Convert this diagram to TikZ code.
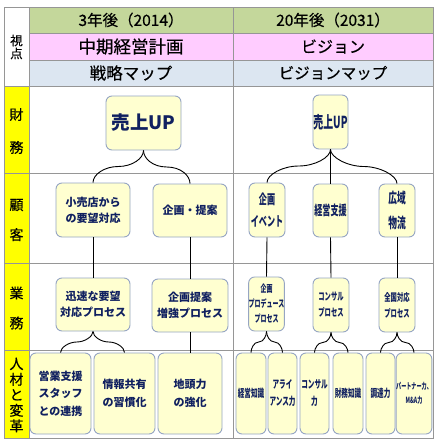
\documentclass[tikz,border=0pt]{standalone}
\usepackage{fontspec}
\setmainfont{Noto Sans CJK JP}
\newfontfamily\nrw{Noto Sans CJK JP}[FakeStretch=0.6]
\newfontfamily\hfont{Noto Sans CJK JP}[FakeBold=0.5]
\usetikzlibrary{calc}
\definecolor{hgreen}{RGB}{196,215,155}
\definecolor{hpink}{RGB}{255,204,255}
\definecolor{hblue}{RGB}{220,230,241}
\definecolor{yel}{RGB}{255,255,0}
\definecolor{bxfill}{RGB}{255,255,208}
\definecolor{bxline}{RGB}{150,165,195}
\definecolor{navy}{RGB}{16,32,96}
\definecolor{gridc}{RGB}{150,150,150}
\newcommand\brc[4]{\draw[conn] (#1.south) .. controls ($(#1.south)+(0,#4)$) and ($(#1.south)!.5!(#2.north)+(#3,0)$) .. ($(#1.south)!.5!(#2.north)$) .. controls ($(#1.south)!.5!(#2.north)-(#3,0)$) and ($(#2.north)-(0,#4)$) .. (#2.north);}
\begin{document}
\begin{tikzpicture}[x=1pt,y=-1pt,
  gridl/.style={draw=gridc,line width=0.8pt},
  conn/.style={draw=black,line width=0.9pt},
  box/.style={draw=bxline,fill=bxfill,rounded corners=6pt,line width=0.9pt,inner sep=0pt,align=center,text=navy},
  lbox/.style={box,font=\fontsize{11}{16}\selectfont\bfseries},
  rbox/.style={box,font=\nrw\fontsize{13.5}{22}\selectfont\bfseries},
  sbox/.style={box,font=\nrw\fontsize{11}{15}\selectfont\bfseries},
  hdr/.style={inner sep=0pt,text=black},
  side/.style={inner sep=0pt,align=center,text=black}]
\useasboundingbox (0,0) rectangle (439,447);
% table background
\fill[white] (0,0) rectangle (439,447);
\fill[hgreen] (29,7) rectangle (433,33);
\fill[hpink] (29,33) rectangle (433,60);
\fill[hblue] (29,60) rectangle (433,86);
\fill[yel] (4,86) rectangle (29,438);
% grid lines
\draw[gridl] (29,33) -- (433,33);
\draw[gridl] (29,60) -- (433,60);
\draw[gridl] (4,86) -- (433,86);
\draw[gridl] (4,173) -- (433,173);
\draw[gridl] (4,263) -- (433,263);
\draw[gridl] (4,350) -- (433,350);
\draw[gridl] (29,7) -- (29,438);
\draw[gridl] (233,7) -- (233,438);
\draw[gridl] (4,7) rectangle (433,438);
% headers
\node[hdr,font=\hfont\fontsize{15.5}{15.5}\selectfont] (h1) at (131,20) {3年後（2014）};
\node[hdr,font=\hfont\fontsize{15.5}{15.5}\selectfont] (h2) at (333,20) {20年後（2031）};
\node[hdr,font=\hfont\fontsize{17.5}{17.5}\selectfont] (h3) at (131,46.5) {中期経営計画};
\node[hdr,font=\hfont\fontsize{16}{16}\selectfont] (h4) at (333,46.5) {ビジョン};
\node[hdr,font=\hfont\fontsize{16.5}{16.5}\selectfont] (h5) at (131,73) {戦略マップ};
\node[hdr,font=\hfont\fontsize{15.5}{15.5}\selectfont] (h6) at (333,73) {ビジョンマップ};
% side labels
\node[side,font=\hfont\fontsize{12.5}{13}\selectfont] (s0) at (16.5,47) {視\\点};
\node[side,font=\hfont\fontsize{14}{33}\selectfont] (s1) at (16.5,131) {財\\務};
\node[side,font=\hfont\fontsize{14}{30}\selectfont] (s2) at (16.5,220) {顧\\客};
\node[side,font=\hfont\fontsize{14}{30}\selectfont] (s3) at (16.5,308) {業\\務};
\node[side,font=\hfont\fontsize{14}{15.5}\selectfont] (s4) at (16.5,395) {人\\材\\と\\変\\革};
% left side boxes
\node[box,font=\fontsize{18.5}{18.5}\selectfont\bfseries,minimum width=75pt,minimum height=54pt] (L1) at (143.5,123) {売上UP};
\node[lbox,minimum width=74pt,minimum height=54pt] (L21) at (93,210) {小売店から\\の要望対応};
\node[lbox,minimum width=74pt,minimum height=53pt] (L22) at (190,210.5) {企画・提案};
\node[lbox,minimum width=74pt,minimum height=53pt] (L31) at (93,304.5) {迅速な要望\\対応プロセス};
\node[lbox,minimum width=76pt,minimum height=53pt] (L32) at (190,305.5) {企画提案\\増強プロセス};
\node[lbox,font=\fontsize{11}{17.5}\selectfont\bfseries,minimum width=61pt,minimum height=81pt] (L41) at (60.5,393.5) {営業支援\\スタッフ\\との連携};
\node[lbox,font=\fontsize{11}{17.5}\selectfont\bfseries,minimum width=61pt,minimum height=81pt] (L42) at (124.5,393.5) {情報共有\\の習慣化};
\node[lbox,font=\fontsize{11}{17.5}\selectfont\bfseries,minimum width=64pt,minimum height=81pt] (L43) at (190,393.5) {地頭力\\の強化};
% right side boxes
\node[box,font=\nrw\fontsize{16.5}{16.5}\selectfont\bfseries,minimum width=35pt,minimum height=54pt] (R1) at (330.5,122) {売上UP};
\node[rbox,minimum width=36pt,minimum height=54pt] (R21) at (267,210) {企画\\イベント};
\node[rbox,minimum width=35pt,minimum height=53pt] (R22) at (330.5,210.5) {経営支援};
\node[rbox,font=\nrw\fontsize{14.5}{25}\selectfont\bfseries,minimum width=36pt,minimum height=53pt] (R23) at (397,210.5) {広域\\物流};
\node[sbox,font=\nrw\fontsize{10}{15}\selectfont\bfseries,minimum width=35pt,minimum height=54pt] (R31) at (266.5,304) {企画\\プロデュース\\プロセス};
\node[sbox,font=\nrw\fontsize{10.5}{16}\selectfont\bfseries,minimum width=36pt,minimum height=54pt] (R32) at (331,305) {コンサル\\プロセス};
\node[sbox,font=\nrw\fontsize{10.5}{16}\selectfont\bfseries,minimum width=36pt,minimum height=54pt] (R33) at (397,305) {全国対応\\プロセス};
\node[sbox,minimum width=30pt,minimum height=81pt] (R41) at (251,393.5) {経営知識};
\node[sbox,font=\nrw\fontsize{11}{17}\selectfont\bfseries,minimum width=29pt,minimum height=81pt] (R42) at (282.5,393.5) {アライ\\アンス力};
\node[sbox,font=\nrw\fontsize{11}{17}\selectfont\bfseries,minimum width=29pt,minimum height=81pt] (R43) at (314.5,393.5) {コンサル\\力};
\node[sbox,minimum width=30pt,minimum height=81pt] (R44) at (348,393.5) {財務知識};
\node[sbox,minimum width=29pt,minimum height=81pt] (R45) at (380.5,393.5) {調達力};
\node[sbox,font=\nrw\fontsize{8.5}{14}\selectfont\bfseries,minimum width=30pt,minimum height=81pt] (R46) at (414,393.5) {パートナー力、\\M\&A力};
% connectors left
\brc{L1}{L21}{14}{8}
\brc{L1}{L22}{-14}{8}
\draw[conn] (L21.south) -- (L31.north);
\draw[conn] (L22.south) -- (L32.north);
\brc{L31}{L41}{8}{5}
\brc{L31}{L42}{-8}{5}
\draw[conn] (L32.south) -- (L43.north);
% connectors right
\brc{R1}{R21}{16}{8}
\brc{R1}{R23}{-16}{8}
\draw[conn] (R1.south) -- (R22.north);
\draw[conn] (R21.south) -- (R31.north);
\draw[conn] (R22.south) -- (R32.north);
\draw[conn] (R23.south) -- (R33.north);
\brc{R31}{R41}{5}{4}
\brc{R31}{R42}{-5}{4}
\brc{R32}{R43}{5}{4}
\brc{R32}{R44}{-5}{4}
\brc{R33}{R45}{5}{4}
\brc{R33}{R46}{-5}{4}
\end{tikzpicture}
\end{document}
